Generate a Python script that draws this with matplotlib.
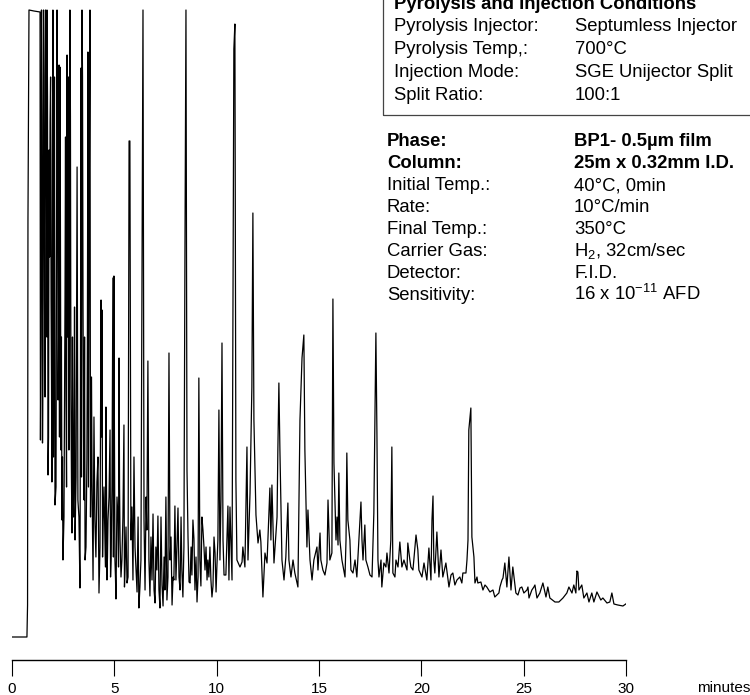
import matplotlib
matplotlib.use("Agg")
import matplotlib.pyplot as plt
import numpy as np
from matplotlib.patches import Rectangle

plt.rcParams['font.family'] = ['Liberation Sans', 'DejaVu Sans']
plt.rcParams['mathtext.fontset'] = 'custom'
plt.rcParams['mathtext.rm'] = 'Liberation Sans'
plt.rcParams['mathtext.it'] = 'Liberation Sans:italic'
plt.rcParams['mathtext.bf'] = 'Liberation Sans:bold'

# pyrogram trace: retention time (min), detector signal (arb. units, 627 = full scale)
retention_min = [
    0.00, 0.73, 0.76, 0.78, 0.83, 1.07, 1.37, 1.39, 1.44, 1.49,
    1.54, 1.59, 1.64, 1.69, 1.71, 1.76, 1.81, 1.86, 1.91, 1.95,
    2.00, 2.05, 2.10, 2.20, 2.25, 2.30, 2.34, 2.39, 2.44, 2.49,
    2.59, 2.64, 2.69, 2.74, 2.78, 2.83, 2.88, 2.93, 2.98, 3.03,
    3.08, 3.18, 3.22, 3.32, 3.37, 3.42, 3.47, 3.52, 3.57, 3.66,
    3.71, 3.76, 3.81, 3.86, 3.91, 3.96, 4.05, 4.15, 4.25, 4.35,
    4.40, 4.45, 4.54, 4.59, 4.64, 4.69, 4.79, 4.84, 4.93, 4.98,
    5.03, 5.08, 5.18, 5.23, 5.28, 5.37, 5.47, 5.52, 5.62, 5.72,
    5.76, 5.81, 5.91, 5.96, 6.06, 6.11, 6.20, 6.30, 6.35, 6.40,
    6.45, 6.50, 6.59, 6.64, 6.69, 6.74, 6.84, 6.89, 6.94, 6.99,
    7.08, 7.13, 7.18, 7.23, 7.33, 7.38, 7.47, 7.57, 7.67, 7.72,
    7.82, 7.91, 7.96, 8.01, 8.11, 8.21, 8.30, 8.35, 8.45, 8.50,
    8.55, 8.65, 8.70, 8.79, 8.84, 8.89, 8.94, 9.04, 9.13, 9.18,
    9.23, 9.33, 9.38, 9.43, 9.53, 9.57, 9.67, 9.72, 9.77, 9.82,
    9.92, 9.97, 10.06, 10.11, 10.16, 10.21, 10.26, 10.31, 10.36, 10.45,
    10.55, 10.60, 10.65, 10.75, 10.84, 10.89, 10.94, 10.99, 11.14, 11.24,
    11.28, 11.38, 11.48, 11.53, 11.63, 11.72, 11.77, 11.82, 11.92, 12.02,
    12.11, 12.16, 12.26, 12.36, 12.46, 12.60, 12.65, 12.70, 12.80, 12.95,
    12.99, 13.04, 13.09, 13.19, 13.29, 13.38, 13.48, 13.53, 13.63, 13.73,
    13.82, 13.97, 14.07, 14.17, 14.26, 14.31, 14.36, 14.41, 14.46, 14.56,
    14.66, 14.75, 14.90, 14.95, 15.05, 15.09, 15.19, 15.29, 15.39, 15.44,
    15.53, 15.63, 15.68, 15.73, 15.83, 15.88, 15.93, 15.97, 16.02, 16.12,
    16.27, 16.32, 16.36, 16.41, 16.51, 16.56, 16.66, 16.76, 16.85, 16.95,
    17.05, 17.10, 17.15, 17.24, 17.29, 17.39, 17.49, 17.59, 17.68, 17.73,
    17.78, 17.83, 17.88, 17.93, 18.03, 18.07, 18.17, 18.27, 18.32, 18.42,
    18.51, 18.56, 18.61, 18.71, 18.76, 18.86, 18.95, 19.05, 19.15, 19.30,
    19.34, 19.44, 19.49, 19.59, 19.74, 19.83, 19.88, 20.03, 20.13, 20.27,
    20.37, 20.47, 20.52, 20.57, 20.61, 20.66, 20.76, 20.86, 20.96, 21.05,
    21.20, 21.35, 21.45, 21.54, 21.64, 21.74, 21.88, 21.98, 22.03, 22.18,
    22.23, 22.28, 22.32, 22.42, 22.47, 22.57, 22.62, 22.72, 22.76, 22.91,
    23.01, 23.11, 23.20, 23.35, 23.50, 23.59, 23.79, 23.84, 23.94, 23.99,
    24.08, 24.18, 24.28, 24.38, 24.47, 24.62, 24.72, 24.82, 24.91, 25.01,
    25.16, 25.21, 25.26, 25.40, 25.50, 25.55, 25.65, 25.79, 25.94, 26.09,
    26.18, 26.28, 26.53, 26.72, 26.92, 27.11, 27.21, 27.26, 27.36, 27.45,
    27.55, 27.60, 27.65, 27.70, 27.84, 27.94, 28.09, 28.19, 28.33, 28.43,
    28.58, 28.77, 28.87, 29.07, 29.21, 29.31, 29.41, 29.60, 29.85, 29.99,
]
signal = [
    0, 0, 32, 417, 627, 626, 625, 197, 627, 194,
    627, 337, 627, 437, 627, 162, 487, 515, 337, 155,
    627, 337, 132, 627, 237, 572, 570, 187, 117, 77,
    337, 237, 582, 474, 187, 627, 237, 104, 167, 194,
    97, 470, 137, 49, 569, 627, 331, 137, 77, 177,
    585, 337, 627, 187, 154, 57, 117, 155, 44, 337,
    327, 117, 97, 230, 57, 117, 207, 77, 359, 361,
    77, 38, 117, 279, 97, 77, 212, 67, 54, 496,
    496, 97, 57, 180, 67, 45, 29, 77, 359, 627,
    117, 47, 107, 276, 77, 41, 57, 123, 47, 34,
    67, 121, 47, 29, 52, 31, 47, 37, 284, 77,
    32, 57, 131, 57, 129, 47, 67, 40, 382, 627,
    167, 55, 54, 62, 117, 98, 47, 35, 259, 77,
    51, 107, 90, 67, 57, 77, 90, 57, 40, 51,
    84, 45, 97, 227, 77, 137, 294, 97, 62, 62,
    131, 57, 130, 57, 588, 613, 157, 77, 70, 75,
    90, 70, 190, 77, 144, 250, 424, 217, 122, 94,
    107, 95, 40, 84, 74, 149, 97, 152, 74, 120,
    187, 254, 187, 77, 57, 80, 134, 77, 60, 77,
    64, 50, 217, 279, 302, 187, 137, 90, 127, 77,
    57, 77, 90, 67, 104, 77, 67, 62, 74, 137,
    77, 84, 338, 174, 97, 120, 92, 164, 97, 77,
    60, 97, 184, 117, 97, 67, 64, 77, 60, 97,
    135, 97, 77, 112, 77, 70, 62, 60, 124, 217,
    304, 204, 77, 60, 77, 50, 74, 70, 84, 64,
    97, 190, 64, 60, 77, 70, 95, 70, 77, 67,
    94, 77, 70, 67, 102, 87, 67, 60, 74, 57,
    89, 57, 117, 141, 77, 64, 105, 60, 87, 60,
    74, 50, 62, 64, 52, 57, 60, 54, 64, 64,
    77, 97, 207, 229, 100, 80, 54, 60, 54, 55,
    47, 52, 50, 45, 47, 40, 44, 50, 57, 59,
    74, 50, 80, 47, 70, 44, 42, 49, 50, 44,
    47, 50, 39, 47, 50, 52, 39, 44, 54, 40,
    50, 39, 35, 35, 39, 44, 50, 48, 44, 52,
    44, 66, 65, 47, 52, 39, 44, 35, 44, 35,
    45, 37, 39, 34, 35, 44, 33, 32, 31, 33,
]

# the unresolved hump between 1.4 and 10 min: extra overlapping minor peaks
minor_min = [
    1.415, 1.465, 1.515, 1.565, 1.615, 1.665, 1.700, 1.735, 1.785, 1.835,
    1.885, 1.930, 1.975, 2.025, 2.075, 2.150, 2.225, 2.275, 2.320, 2.365,
    2.415, 2.465, 2.540, 2.615, 2.665, 2.715, 2.760, 2.805, 2.855, 2.905,
    2.955, 3.005, 3.055, 3.130, 3.200, 3.270, 3.345, 3.395, 3.445, 3.495,
    3.545, 3.615, 3.685, 3.735, 3.785, 3.835, 3.885, 3.935, 4.005, 4.100,
    4.200, 4.300, 4.375, 4.425, 4.495, 4.565, 4.615, 4.665, 4.740, 4.815,
    4.885, 4.955, 5.005, 5.055, 5.130, 5.205, 5.255, 5.325, 5.420, 5.495,
    5.570, 5.670, 5.860, 6.010, 6.160, 6.250, 6.550, 6.790, 7.030, 7.280,
    7.430, 7.520, 7.620, 7.770, 7.870, 8.060, 8.160, 8.260, 8.400, 8.600,
    8.750, 8.990, 9.090, 9.280, 9.480, 9.620, 9.870, 10.010,
]
minor_signal = [
    300, 520, 280, 560, 240, 600, 300, 540, 200, 380,
    560, 260, 480, 180, 560, 150, 500, 300, 200, 420,
    300, 180, 120, 500, 150, 300, 560, 250, 520, 160,
    300, 120, 330, 160, 300, 120, 250, 160, 560, 200,
    300, 90, 300, 150, 500, 120, 260, 100, 220, 80,
    180, 90, 200, 80, 150, 70, 160, 80, 140, 60,
    150, 80, 200, 60, 140, 70, 150, 60, 120, 50,
    110, 60, 130, 90, 120, 50, 140, 100, 90, 120,
    80, 140, 60, 100, 60, 90, 60, 120, 90, 100,
    90, 80, 60, 120, 90, 60, 100, 70,
]

tick_minutes = [0, 5, 10, 15, 20, 25, 30]
tick_labels = ['0', '5', '10', '15', '20', '25', '30']

box_title = 'Pyrolysis and Injection Conditions'
box_labels = ['Pyrolysis Injector:', 'Pyrolysis Temp,:', 'Injection Mode:', 'Split Ratio:']
box_values = ['Septumless Injector', '700°C', 'SGE Unijector Split', '100:1']

cond_labels = ['Phase:', 'Column:', 'Initial Temp.:', 'Rate:', 'Final Temp.:',
               'Carrier Gas:', 'Detector:', 'Sensitivity:']
cond_values = ['BP1- 0.5µm film', '25m x 0.32mm I.D.', '40°C, 0min', '10°C/min', '350°C',
               r'H$_\mathrm{2}$, 32cm/sec', 'F.I.D.', r'16 x 10$^\mathrm{-11}$ AFD']
cond_bold = [True, True, False, False, False, False, False, False]

# one trace: main points and minor peaks merged in time order
t_all = np.array(retention_min + minor_min)
s_all = np.array(signal + minor_signal)
order = np.argsort(t_all, kind='stable')

W, H = 750, 695
fig = plt.figure(figsize=(W / 100, H / 100), dpi=100)
ax = fig.add_axes([12 / W, 55 / H, 614 / W, 632 / H])

ax.plot(t_all[order], s_all[order], color='black', linewidth=0.9)
ax.set_xlim(0, 30)
ax.set_ylim(-3, 629)

for side in ['left', 'right', 'top']:
    ax.spines[side].set_visible(False)
ax.spines['bottom'].set_position(('outward', 14.4))
ax.spines['bottom'].set_bounds(0, 30)
ax.spines['bottom'].set_linewidth(1.0)
ax.set_yticks([])
ax.set_xticks(tick_minutes)
ax.set_xticklabels(tick_labels)
ax.tick_params(axis='x', direction='out', length=11.5, width=0.8, pad=4, labelsize=11)
ax.patch.set_visible(False)

fig.text(724 / W, 1 - 688 / H, 'minutes', fontsize=11, ha='center', va='center')


def px(x, y):
    return x / W, 1 - y / H


fig.add_artist(Rectangle(px(383, 115), 1, 1, transform=fig.transFigure,
                         fill=False, edgecolor='#444444', linewidth=0.9, clip_on=False))

fs = 13.3
fig.text(*px(394, 9), box_title, fontsize=fs, fontweight='bold', va='baseline')
for i, (lab, val) in enumerate(zip(box_labels, box_values)):
    y = 31 + 23 * i
    fig.text(*px(394, y), lab, fontsize=fs, va='baseline')
    fig.text(*px(575, y), val, fontsize=fs, va='baseline')

for i, (lab, val, b) in enumerate(zip(cond_labels, cond_values, cond_bold)):
    y = 146.5 + 21.9 * i
    w = 'bold' if b else 'normal'
    fig.text(*px(387, y), lab, fontsize=fs, fontweight=w, va='baseline')
    fig.text(*px(574, y), val, fontsize=fs, fontweight=w, va='baseline')

fig.savefig('out.png', dpi=100)
